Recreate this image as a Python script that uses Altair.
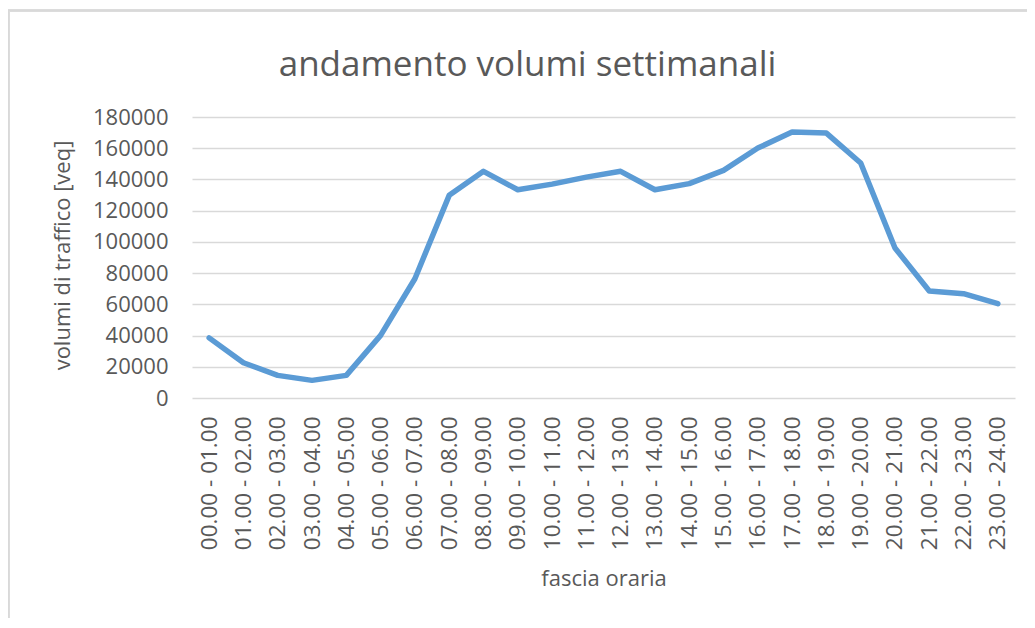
import altair as alt
import pandas as pd

fasce = [
    "00.00 - 01.00", "01.00 - 02.00", "02.00 - 03.00", "03.00 - 04.00",
    "04.00 - 05.00", "05.00 - 06.00", "06.00 - 07.00", "07.00 - 08.00",
    "08.00 - 09.00", "09.00 - 10.00", "10.00 - 11.00", "11.00 - 12.00",
    "12.00 - 13.00", "13.00 - 14.00", "14.00 - 15.00", "15.00 - 16.00",
    "16.00 - 17.00", "17.00 - 18.00", "18.00 - 19.00", "19.00 - 20.00",
    "20.00 - 21.00", "21.00 - 22.00", "22.00 - 23.00", "23.00 - 24.00",
]
volumi = [
    38500, 22600, 14500, 11300, 14500, 40100, 76400, 129800,
    145200, 133400, 137000, 141500, 145200, 133400, 137300, 145800,
    160100, 170400, 169700, 150500, 96100, 68500, 66800, 60400,
]

df = pd.DataFrame({"fascia": fasce, "volumi": volumi})

TEXT = "#595959"
GRID = "#d9d9d9"
FONT = "Open Sans"

line = alt.Chart(df).mark_line(
    color="#5B9BD5", strokeWidth=5.5, strokeJoin="round", strokeCap="round"
).encode(
    x=alt.X(
        "fascia:N", sort=fasce, scale=alt.Scale(type="point", padding=0.5),
        axis=alt.Axis(
            title="fascia oraria", labelAngle=270, labelAlign="right",
            labelBaseline="middle", labelPadding=18, labelFontSize=22.5,
            labelColor=TEXT, labelFont=FONT, domain=False, ticks=False,
            grid=False, titleFont=FONT, titleFontSize=22, titleColor=TEXT,
            titleFontWeight="normal", titleY=180, titleBaseline="middle",
        ),
    ),
    y=alt.Y(
        "volumi:Q", scale=alt.Scale(domain=[0, 180000], nice=False),
        axis=alt.Axis(
            title="volumi di traffico [veq]", values=list(range(0, 180001, 20000)),
            format="d", labelPadding=24, labelFontSize=22, labelColor=TEXT,
            labelFont=FONT, domain=False, ticks=False, grid=True,
            gridColor=GRID, gridWidth=1.5, titleFont=FONT, titleFontSize=22,
            titleColor=TEXT, titleFontWeight="normal", titleX=-130, titleY=138,
            titleAngle=270, titleAlign="center", titleBaseline="middle",
        ),
    ),
)

frame_top = alt.Chart(df).mark_rule(color=GRID, strokeWidth=1.5).encode(
    x=alt.value(-184), x2=alt.value(843), y=alt.value(-106.5)
)
frame_left = alt.Chart(df).mark_rule(color=GRID, strokeWidth=1.5).encode(
    x=alt.value(-183.5), y=alt.value(-106.5), y2=alt.value(520)
)

chart = alt.layer(frame_top, frame_left, line).properties(
    width=823,
    height=281,
    title=alt.TitleParams(
        "andamento volumi settimanali", font=FONT, fontSize=35,
        fontWeight="normal", color=TEXT, anchor="middle", dx=-76, offset=-101,
        baseline="alphabetic",
    ),
    autosize=alt.AutoSizeParams(type="none"),
    padding={"left": 184, "top": 109, "right": 12, "bottom": 220},
).configure_view(stroke=None)

chart.save("out.html", embed_options={"renderer": "svg", "actions": False})
